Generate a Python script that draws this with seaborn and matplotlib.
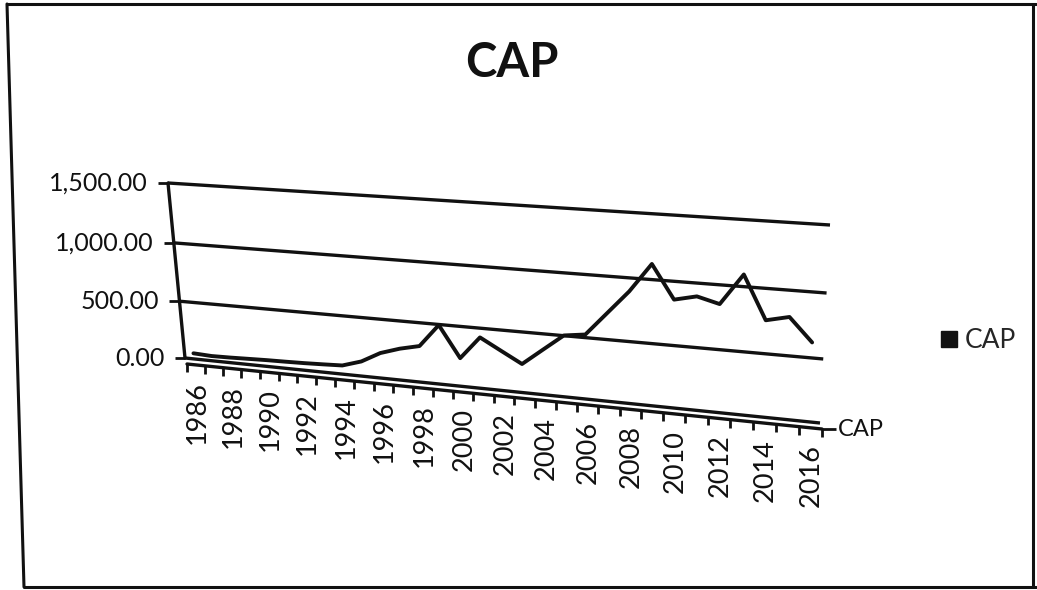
import numpy as np
import matplotlib
matplotlib.use("Agg")
import matplotlib.pyplot as plt
import seaborn as sns
from matplotlib import transforms as mtransforms
from matplotlib.lines import Line2D

W, H = 1037, 590
DPI = 100

sns.set_theme(style="white")
plt.rcParams["font.family"] = ["Lato", "DejaVu Sans"]

# ---- data -------------------------------------------------------------
years = list(range(1986, 2017))
cap = [50, 42, 45, 50, 55, 58, 62, 68, 75, 126, 214, 267, 305, 495, 236,
       424, 330, 237, 370, 502, 525, 710, 895, 1120, 859, 898, 853, 1092,
       758, 798, 619]
y_ticks = [0, 500, 1000, 1500]
y_tick_labels = ["0.00", "500.00", "1,000.00", "1,500.00"]
x_tick_years = years[::2]
series_name = "CAP"

# ---- 3-D look: back wall projected with a perspective transform --------
# wall corners in pixel coordinates (x to the right, y downward)
wall_bl, wall_br, wall_tr, wall_tl = (185, 358), (820, 423), (830, 225), (168, 183)


def homography(src, dst):
    rows, rhs = [], []
    for (u, v), (x, y) in zip(src, dst):
        rows.append([u, v, 1, 0, 0, 0, -u * x, -v * x]); rhs.append(x)
        rows.append([0, 0, 0, u, v, 1, -u * y, -v * y]); rhs.append(y)
    h = np.linalg.solve(np.array(rows, float), np.array(rhs, float))
    return np.append(h, 1.0).reshape(3, 3)


class Perspective(mtransforms.Transform):
    input_dims = 2
    output_dims = 2
    is_separable = False
    has_inverse = False

    def __init__(self, matrix):
        super().__init__()
        self._m = matrix

    def transform_non_affine(self, values):
        v = np.asarray(values, float).reshape(-1, 2)
        p = np.column_stack([v, np.ones(len(v))]) @ self._m.T
        return p[:, :2] / p[:, 2:3]


corners = [wall_bl, wall_br, wall_tr, wall_tl]
M = homography([(0, 0), (1, 0), (1, 1), (0, 1)],
               [(x, H - y) for x, y in corners])

fig = plt.figure(figsize=(W / DPI, H / DPI), dpi=DPI)
ax = fig.add_axes([0, 0, 1, 1])
ax.set_axis_off()
ax.set_xlim(years[0] - 0.5, years[-1] + 0.5)
ax.set_ylim(y_ticks[0], y_ticks[-1])
xlo, xhi = ax.get_xlim()

wall = ax.transScale + ax.transLimits + Perspective(M)
floor = wall + mtransforms.Affine2D().translate(2, -6)

ink = "#111111"
lw = 2.4

# gridlines on the back wall
for v in y_ticks:
    ax.plot([xlo, xhi], [v, v], transform=wall, color=ink, lw=lw,
            clip_on=False, solid_capstyle="butt")
# value axis with ticks and labels
ax.plot([xlo, xlo], [y_ticks[0], y_ticks[-1]], transform=wall, color=ink,
        lw=lw, clip_on=False)
ax.plot([xlo] * len(y_ticks), y_ticks, transform=wall, ls="none",
        marker=0, ms=7, mew=2, color=ink, clip_on=False)
label_shift = mtransforms.Affine2D().translate(-20, 0)
for v, lab in zip(y_ticks, y_tick_labels):
    ax.text(xlo, v, lab, transform=wall + label_shift, ha="right",
            va="center", fontsize=18, color=ink)

# front edge of the floor with category ticks
bounds = np.arange(xlo, xhi + 0.5, 1.0)
ax.plot([xlo, xhi], [0, 0], transform=floor, color=ink, lw=lw, clip_on=False)
ax.plot(bounds, np.zeros_like(bounds), transform=floor, ls="none",
        marker=3, ms=6, mew=2, color=ink, clip_on=False)
year_shift = mtransforms.Affine2D().translate(1, -16)
for yr in x_tick_years:
    ax.text(yr, 0, str(yr), transform=floor + year_shift, rotation=90,
            ha="center", va="top", fontsize=19.5, color=ink)

# series (depth) axis at the right end of the floor
ax.plot([xhi], [0], transform=floor, ls="none", marker=1, ms=10, mew=2,
        color=ink, clip_on=False)
ax.text(xhi, 0, series_name,
        transform=floor + mtransforms.Affine2D().translate(16, 0),
        ha="left", va="center", fontsize=17, color=ink)

# the series itself
sns.lineplot(x=years, y=cap, ax=ax, color=ink, linewidth=2.8,
             transform=wall, clip_on=False, legend=False)
ax.set_xlim(xlo, xhi)
ax.set_ylim(y_ticks[0], y_ticks[-1])
ax.set_axis_off()

# legend
handle = Line2D([], [], marker="s", color=ink, ls="none", ms=11,
                label=series_name)
fig.legend(handles=[handle], loc="center left",
           bbox_to_anchor=(925 / W, 1 - 341 / H), frameon=False,
           handletextpad=0.2, borderpad=0, handlelength=0.8, fontsize=19)

# title
fig.text(512 / W, 1 - 63 / H, series_name, ha="center", va="center",
         fontsize=34, fontweight="bold", color=ink)

# outer frame of the chart area
frame = [((7, 4), (1036, 4)), ((7, 4), (24, 587)),
         ((24, 587), (1036, 587)), ((1033, 4), (1033, 587))]
for (x0, y0), (x1, y1) in frame:
    fig.add_artist(Line2D([x0 / W, x1 / W], [1 - y0 / H, 1 - y1 / H],
                          transform=fig.transFigure, color=ink, lw=2.2))

fig.savefig("out.png", dpi=DPI, facecolor="white")
